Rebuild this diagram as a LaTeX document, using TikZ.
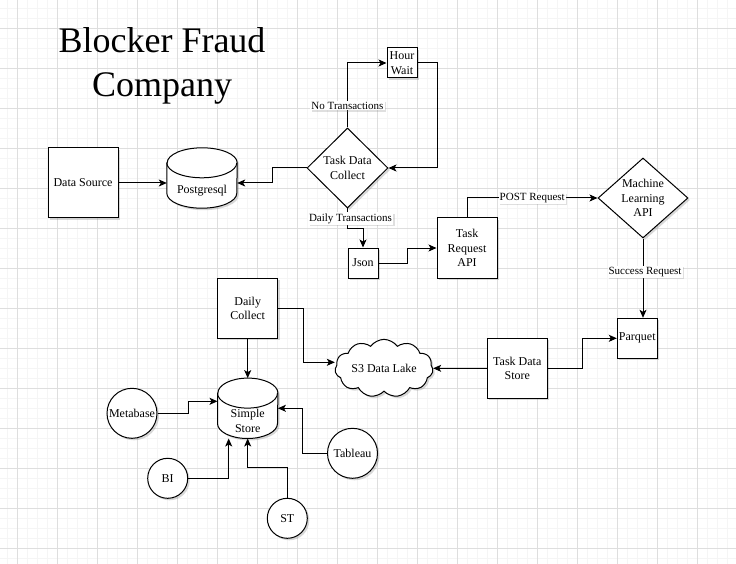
\documentclass[tikz,border=0pt]{standalone}
\usepackage{fontspec}
\setmainfont{Liberation Serif}
\usetikzlibrary{arrows.meta,shapes.geometric,shapes.symbols,shadows}

\tikzset{
	box/.style={draw, fill=white, line width=1pt, inner sep=1pt, align=center,
		font=\fontsize{12}{14.5}\selectfont,
		drop shadow={shadow xshift=2pt, shadow yshift=-2pt, opacity=0.3}},
	ball/.style={box, circle, inner sep=0pt, minimum size=#1},
	decision/.style={box, diamond, inner sep=0pt, aspect=1},
	lbl/.style={align=center, font=\fontsize{12}{14.5}\selectfont, inner sep=0pt},
	elabel/.style={fill=white, inner sep=1pt, font=\fontsize{11}{12}\selectfont,
		drop shadow={shadow xshift=1.5pt, shadow yshift=-1.5pt, opacity=0.25}},
	arr/.style={line width=1pt, -{Stealth[length=8pt,width=7pt,inset=2pt]}},
	minorgrid/.style={draw=black!4, line width=0.8pt},
	majorgrid/.style={draw=black!13, line width=0.8pt}
}

% cylinder outline round an empty node: name, half width, cap radius
\newcommand{\dbshape}[3]{%
	\draw[line width=1pt, fill=white, drop shadow={shadow xshift=2pt, shadow yshift=-2pt, opacity=0.3}]
		([yshift=-#3]#1.north west) -- ([yshift=#3]#1.south west)
		arc[start angle=180, end angle=360, x radius=#2, y radius=#3]
		-- ([yshift=-#3]#1.north east)
		arc[start angle=0, end angle=180, x radius=#2, y radius=#3] -- cycle;
	\draw[line width=1pt] ([yshift=-#3]#1.north west)
		arc[start angle=180, end angle=360, x radius=#2, y radius=#3];
}

\begin{document}
\begin{tikzpicture}[x=1pt,y=-1pt]
	\useasboundingbox[fill=white] (0,0) rectangle (736,564);
	% grid
	\foreach \i in {0,...,72}
		\draw[minorgrid] (7.3+10*\i,0) -- (7.3+10*\i,564);
	\foreach \i in {0,...,55}
		\draw[minorgrid] (0,8.3+10*\i) -- (736,8.3+10*\i);
	\foreach \i in {0,...,17}
		\draw[majorgrid] (17.3+40*\i,0) -- (17.3+40*\i,564);
	\foreach \i in {0,...,13}
		\draw[majorgrid] (0,28.3+40*\i) -- (736,28.3+40*\i);

	% title
	\node[align=center, font=\fontsize{36}{44}\selectfont] (title) at (162,66) {Blocker Fraud\\Company};

	% top row
	\node[box, minimum width=70, minimum height=70] (src) at (83,183) {Data Source};
	\node[inner sep=0pt, minimum width=70, minimum height=60] (pg) at (202,178) {};
	\dbshape{pg}{35pt}{15pt}
	\node[lbl] (pgtext) at ([yshift=-12.5pt]pg.center) {Postgresql};
	\node[decision, minimum width=81, minimum height=80] (collect) at (347.5,168) {};
	\node[lbl] (collecttext) at (collect) {Task Data\\Collect};
	\node[box, minimum width=30, minimum height=30] (wait) at (402,63) {Hour\\Wait};
	\node[box, minimum width=30, minimum height=30] (json) at (363,263) {Json};
	\node[box, minimum width=60, minimum height=60] (request) at (467,248) {Task\\Request\\API};
	\node[decision, minimum width=90, minimum height=80] (ml) at (643,198) {};
	\node[lbl] (mltext) at (ml) {Machine\\Learning\\API};

	% lower part
	\node[box, minimum width=40, minimum height=40] (parquet) at (637.3,338.3) {Parquet};
	\node[box, minimum width=60, minimum height=60] (store) at (517.3,368.3) {Task Data\\Store};
	\node[box, cloud, cloud puffs=11, cloud puff arc=110, aspect=2, inner sep=0pt,
		minimum width=98, minimum height=52] (lake) at (384,368.3) {S3 Data Lake};
	\node[box, minimum width=60, minimum height=60] (daily) at (247.7,308.3) {Daily\\Collect};
	\node[inner sep=0pt, minimum width=60, minimum height=60] (simple) at (247.7,408.3) {};
	\dbshape{simple}{30pt}{15pt}
	\node[lbl] (simpletext) at ([yshift=-12.5pt]simple.center) {Simple\\Store};
	\node[ball=50] (metabase) at (132,413.3) {Metabase};
	\node[ball=40] (bi) at (167.7,478.3) {BI};
	\node[ball=40] (st) at (287.3,518.3) {ST};
	\node[ball=50] (tableau) at (352.5,453.3) {Tableau};

	% connectors
	\draw[arr] (src.east) -- (src.east -| pg.west);
	\draw[arr] (collect.west) -- ++(-34,0) |- (src.east -| pg.east);
	\draw[arr] (collect.north) |- node[elabel, pos=0.17] {No Transactions} (wait.west);
	\draw[arr] (wait.east) -- ++(20,0) |- (collect.east);
	\draw[arr] (collect.south) -- node[elabel, xshift=3] {Daily Transactions} ++(0,20) -| (json.north);
	\draw[arr] (json.east) -- ++(29,0) |- (request.west);
	\draw[arr] (request.north) |- node[elabel, pos=0.75] {POST Request} (ml.west);
	\draw[arr] (ml.south) -- node[elabel, pos=0.42, xshift=2] {Success Request} (ml.south |- parquet.north);
	\draw[arr] (store.east) -- ++(35,0) |- (parquet.west);
	\draw[arr] (store.west) -- (lake.east);
	\draw[arr] (daily.east) -- ++(25,0) |- ([yshift=6pt]lake.west);
	\draw[arr] (daily.south) -- (simple.north);
	\draw[arr] (metabase.east) -- ++(31,0) |- ([yshift=7pt]simple.west);
	\draw[arr] (bi.east) -| ([xshift=-19pt]simple.south);
	\draw[arr] (st.north) -- ++(0,-30) -| (simple.south);
	\draw[arr] (tableau.west) -- ++(-25,0) |- (simple.east);
\end{tikzpicture}
\end{document}
